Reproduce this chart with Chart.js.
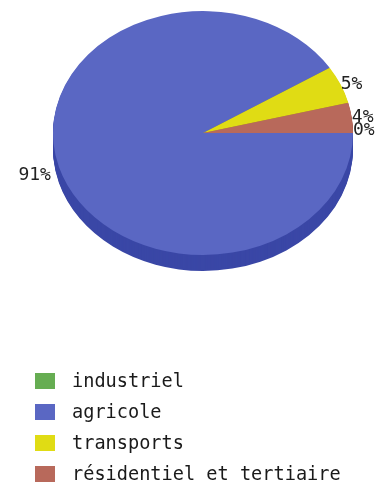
<!DOCTYPE html>
<html><head><meta charset="utf-8">
<script src="https://cdn.jsdelivr.net/npm/chart.js@4/dist/chart.umd.min.js"></script>
<style>
html,body{margin:0;padding:0;background:#fff;}
#wrap{position:relative;width:377px;height:485px;overflow:hidden;}
#c{position:absolute;left:0;top:0;}
#legend{position:absolute;left:35px;top:365px;font-family:"DejaVu Sans Mono",monospace;font-size:18.6px;color:#1a1a1a;}
.row{height:31px;display:flex;align-items:center;white-space:nowrap;}
.box{width:20px;height:16px;margin-right:17px;flex:none;}
</style></head><body>
<div id="wrap"><canvas id="c" width="377" height="485"></canvas><div id="legend"></div></div>
<script>
const categories = ['industriel', 'agricole', 'transports', 'résidentiel et tertiaire'];
const values = [0, 91, 5, 4];
const valueLabels = ['0%', '91%', '5%', '4%'];
const colors = ['#66ad52', '#5a67c3', '#e0dc14', '#b8695b'];
const sideColors = ['#4a8a3a', '#3a47a6', '#b0aa08', '#8e4c40'];

const CY = 133, K = 0.813, DEPTH = 16;

const pie3d = {
  id: 'pie3d',
  beforeDatasetsDraw(chart) {
    const ctx = chart.ctx;
    const meta = chart.getDatasetMeta(0);
    const cy0 = meta.data[0].y;
    ctx.save();
    ctx.translate(0, CY - K * cy0);
    ctx.scale(1, K);
    for (let d = DEPTH; d >= 1; d--) {
      ctx.save();
      ctx.translate(0, d / K);
      meta.data.forEach((arc, i) => {
        if (!arc.circumference) return;
        const o = arc.options;
        arc.options = Object.assign({}, o, {backgroundColor: sideColors[i], borderWidth: 0});
        arc.draw(ctx);
        arc.options = o;
      });
      ctx.restore();
    }
  },
  afterDatasetsDraw(chart) {
    const ctx = chart.ctx;
    ctx.restore();
    const meta = chart.getDatasetMeta(0);
    ctx.save();
    ctx.font = '18px "DejaVu Sans Mono", monospace';
    ctx.fillStyle = '#222';
    ctx.textBaseline = 'middle';
    meta.data.forEach((arc, i) => {
      const mid = (arc.startAngle + arc.endAngle) / 2;
      const r = arc.outerRadius;
      let x = arc.x + r * Math.cos(mid);
      let y = CY + K * r * Math.sin(mid);
      if (Math.cos(mid) >= 0) { ctx.textAlign = 'left'; }
      else { ctx.textAlign = 'right'; x -= 8; }
      if (Math.sin(mid) > 0.05) y += DEPTH * 0.5;
      if (i === 0) y -= 3;
      ctx.fillText(valueLabels[i], x, y);
    });
    ctx.restore();
  }
};

new Chart(document.getElementById('c'), {
  type: 'pie',
  data: {
    labels: categories,
    datasets: [{
      data: values,
      backgroundColor: colors,
      borderWidth: 0,
      hoverOffset: 0,
      clip: false
    }]
  },
  options: {
    responsive: false,
    animation: false,
    events: [],
    rotation: 90,
    layout: {padding: {left: 53, right: 24, top: 0, bottom: 185}},
    plugins: {legend: {display: false}, tooltip: {enabled: false}}
  },
  plugins: [pie3d]
});

const lg = document.getElementById('legend');
categories.forEach((c, i) => {
  const row = document.createElement('div');
  row.className = 'row';
  const b = document.createElement('span');
  b.className = 'box';
  b.style.background = colors[i];
  const t = document.createElement('span');
  t.textContent = c;
  row.appendChild(b); row.appendChild(t);
  lg.appendChild(row);
});
</script>
</body></html>
